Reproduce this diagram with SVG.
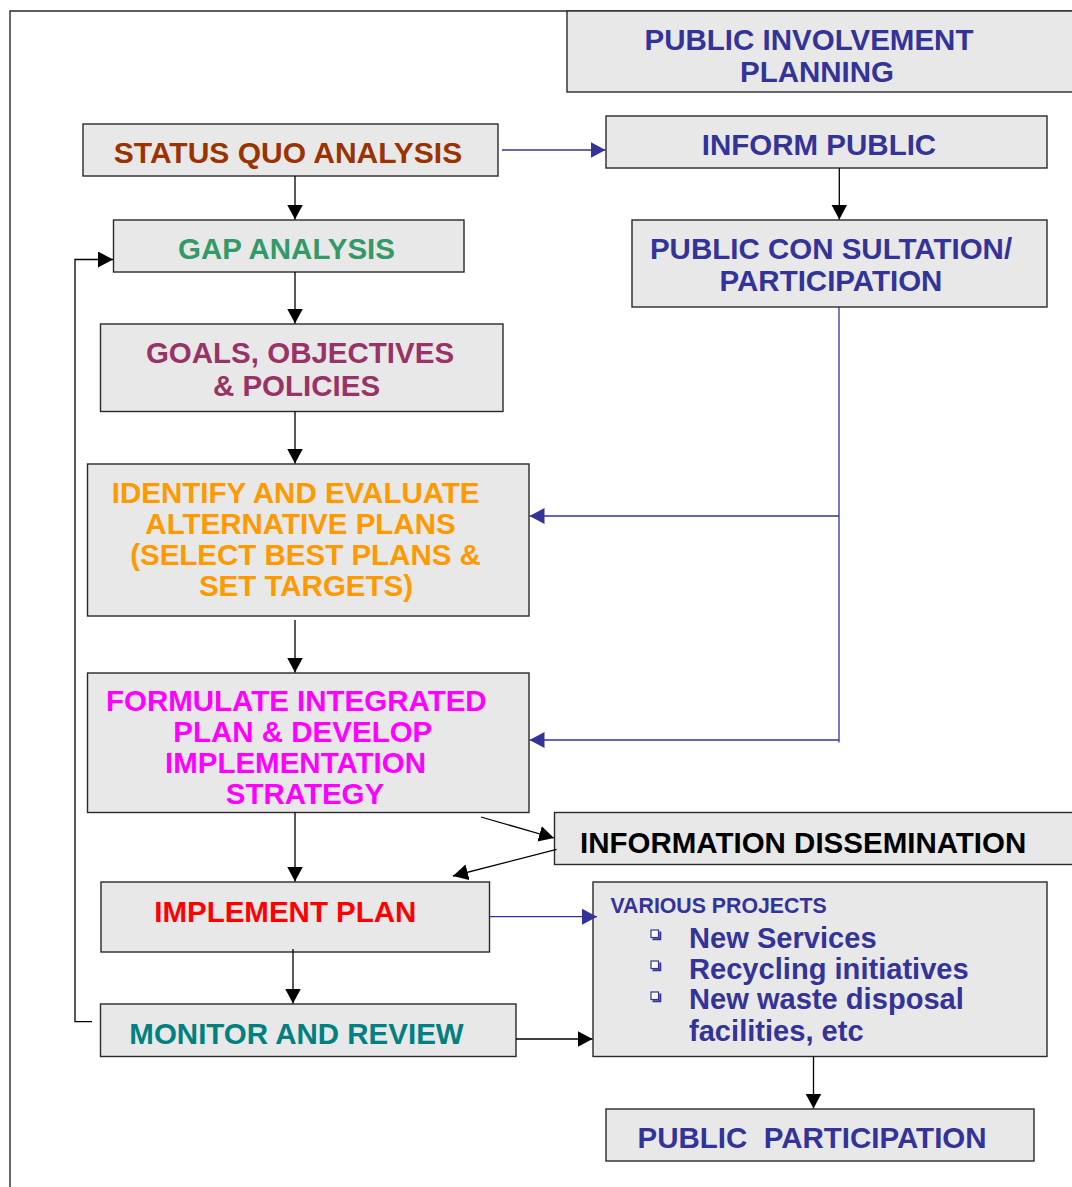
<svg xmlns="http://www.w3.org/2000/svg" width="1072" height="1187" viewBox="0 0 1072 1187">
<style>
.box{fill:#e8e8e8;stroke:#2a2a2a;stroke-width:1.4}
.t{font-family:"Liberation Sans",Arial,sans-serif;font-weight:bold;font-size:29.5px}
.c{text-anchor:middle}
.blue{fill:#333399}
.it{font-size:29.1px}
.ln{fill:none;stroke:#000;stroke-width:1.3}
.bl{fill:none;stroke:#333399;stroke-width:1.3}
</style>
<defs>
<marker id="ah" viewBox="0 0 15 16" refX="15" refY="8" markerWidth="15" markerHeight="16" markerUnits="userSpaceOnUse" orient="auto"><path d="M0,0 L15,8 L0,16 Z" fill="#000"/></marker>
<marker id="ahb" viewBox="0 0 15 16" refX="15" refY="8" markerWidth="15" markerHeight="16" markerUnits="userSpaceOnUse" orient="auto"><path d="M0,0 L15,8 L0,16 Z" fill="#333399"/></marker>
</defs>
<rect width="1072" height="1187" fill="#fff"/>
<path d="M10,1187 V11 H1072" fill="none" stroke="#2a2a2a" stroke-width="1.4"/>

<g id="public-involvement-planning">
<rect class="box" x="567" y="11" width="520" height="81"/>
<text class="t c blue" x="809" y="50">PUBLIC INVOLVEMENT</text>
<text class="t c blue" x="817" y="82">PLANNING</text>
</g>
<g id="status-quo">
<rect class="box" x="83" y="124" width="415" height="52"/>
<text class="t c" fill="#993300" x="288" y="163" style="font-size:30px">STATUS QUO ANALYSIS</text>
</g>
<g id="inform-public">
<rect class="box" x="606" y="116" width="441" height="52"/>
<text class="t c blue" x="819" y="155">INFORM PUBLIC</text>
</g>
<g id="gap-analysis">
<rect class="box" x="113.5" y="220" width="350.5" height="52"/>
<text class="t c" fill="#339966" x="286.5" y="259">GAP ANALYSIS</text>
</g>
<g id="public-consultation">
<rect class="box" x="632" y="220" width="415" height="87"/>
<text class="t c blue" x="831" y="259">PUBLIC CON SULTATION/</text>
<text class="t c blue" x="831" y="291">PARTICIPATION</text>
</g>
<g id="goals">
<rect class="box" x="100.5" y="324" width="402.5" height="87.5"/>
<text class="t c" fill="#993366" x="300" y="363">GOALS, OBJECTIVES</text>
<text class="t c" fill="#993366" x="296.5" y="396">&amp; POLICIES</text>
</g>
<g id="identify">
<rect class="box" x="87.5" y="464" width="441.5" height="152"/>
<text class="t c" fill="#ff9900" x="295.7" y="502.5">IDENTIFY AND EVALUATE</text>
<text class="t c" fill="#ff9900" x="300.5" y="533.5">ALTERNATIVE PLANS</text>
<text class="t c" fill="#ff9900" x="305.5" y="564.5">(SELECT BEST PLANS &amp;</text>
<text class="t c" fill="#ff9900" x="306" y="596">SET TARGETS)</text>
</g>
<g id="formulate">
<rect class="box" x="87.5" y="673" width="441.5" height="139.5"/>
<text class="t c" fill="#ff00ff" x="296.3" y="711">FORMULATE INTEGRATED</text>
<text class="t c" fill="#ff00ff" x="302.8" y="742.3">PLAN &amp; DEVELOP</text>
<text class="t c" fill="#ff00ff" x="295.5" y="773.3">IMPLEMENTATION</text>
<text class="t c" fill="#ff00ff" x="305" y="804">STRATEGY</text>
</g>
<g id="information-dissemination">
<rect class="box" x="554.5" y="812.5" width="540" height="52"/>
<text class="t" fill="#000" x="580" y="853">INFORMATION DISSEMINATION</text>
</g>
<g id="implement-plan">
<rect class="box" x="101" y="882" width="388.5" height="70"/>
<text class="t c" fill="#ff0000" x="285.3" y="922">IMPLEMENT PLAN</text>
</g>
<g id="various-projects">
<rect class="box" x="593" y="882" width="454" height="174.5"/>
<text class="t blue" x="610.5" y="913" style="font-size:21.3px">VARIOUS PROJECTS</text>
<g fill="#fff" stroke="#333399">
<rect x="651" y="930" width="7.5" height="7.5" stroke-width="1.2"/>
<rect x="651" y="961" width="7.5" height="7.5" stroke-width="1.2"/>
<rect x="651" y="992" width="7.5" height="7.5" stroke-width="1.2"/>
</g>
<path d="M652.5,939.3 H660.3 V931.5 M652.5,970.3 H660.3 V962.5 M652.5,1001.3 H660.3 V993.5" fill="none" stroke="#333399" stroke-width="2"/>
<text class="t it blue" x="689" y="947.7">New Services</text>
<text class="t it blue" x="689" y="978.5">Recycling initiatives</text>
<text class="t it blue" x="689" y="1009.3">New waste disposal</text>
<text class="t it blue" x="689" y="1040.5">facilities, etc</text>
</g>
<g id="monitor-review">
<rect class="box" x="100.5" y="1004" width="415.5" height="52.5"/>
<text class="t c" fill="#008080" x="296.5" y="1044">MONITOR AND REVIEW</text>
</g>
<g id="public-participation">
<rect class="box" x="606" y="1109" width="428" height="52"/>
<text class="t" fill="#333399" x="637.5" y="1148.3" xml:space="preserve">PUBLIC  PARTICIPATION</text>
</g>

<g id="connectors">
<path class="ln" d="M295,176 V219.5" marker-end="url(#ah)"/>
<path class="ln" d="M295,272 V323.5" marker-end="url(#ah)"/>
<path class="ln" d="M295,411.5 V463.5" marker-end="url(#ah)"/>
<path class="ln" d="M295,620 V672.5" marker-end="url(#ah)"/>
<path class="ln" d="M295,812.5 V881.5" marker-end="url(#ah)"/>
<path class="ln" d="M293,949 V1003.5" marker-end="url(#ah)"/>
<path class="ln" d="M839.3,168 V219.5" marker-end="url(#ah)"/>
<path class="ln" d="M813.5,1056.5 V1108.5" marker-end="url(#ah)"/>
<path class="ln" d="M516,1039 H592.5" marker-end="url(#ah)"/>
<path class="ln" d="M92,1021.7 H75 V259.5 H113" marker-end="url(#ah)"/>
<path class="ln" d="M481,817 L554,838" marker-end="url(#ah)"/>
<path class="ln" d="M556.6,849.3 L453,876" marker-end="url(#ah)"/>
<path class="bl" d="M502,150 H605.5" marker-end="url(#ahb)"/>
<path class="bl" d="M490,916.7 H597" marker-end="url(#ahb)"/>
<path class="bl" d="M839,307 V742.5"/>
<path class="bl" d="M839,516 H529.5" marker-end="url(#ahb)"/>
<path class="bl" d="M839,740 H529.5" marker-end="url(#ahb)"/>
</g>
</svg>
